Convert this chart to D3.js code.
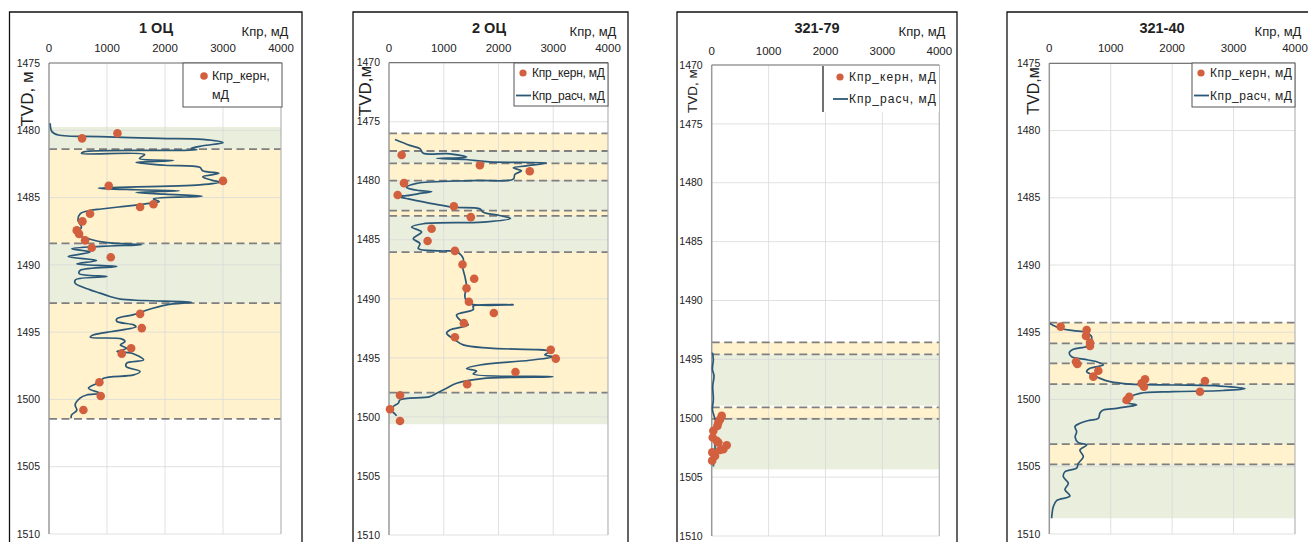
<!DOCTYPE html>
<html>
<head>
<meta charset="utf-8">
<script src="https://cdn.jsdelivr.net/npm/d3@7"></script>
<style>
  body { margin: 0; background: #fff; }
  text { font-family: "Liberation Sans", Arial, sans-serif; fill: #222; }
</style>
</head>
<body>
<svg id="chart" width="1308" height="542"></svg>
<script>

// ---- data: [depth m, Kpr mD] ----
const wells = ["1 ОЦ", "2 ОЦ", "321-79", "321-40"]
const xTicks = [0, 1000, 2000, 3000, 4000]
const unitLabel = "Кпр, мД"
const coreName = "Кпр_керн, мД"
const calcName = "Кпр_расч, мД"

const calc1 = [[1479.48,20],[1480.1,50],[1480.35,160],[1480.47,880],[1480.6,1916],[1480.68,2650],[1480.92,3000],
  [1481.15,2650],[1481.35,2450],[1481.45,2550],[1481.6,600],[1481.72,560],[1481.8,1650],[1482.1,1560],[1482.25,2150],
  [1482.4,1500],[1482.6,2000],[1482.75,2600],[1483.0,2650],[1483.2,2930],[1483.45,2650],[1483.7,2800],[1483.85,2950],
  [1484.05,2600],[1484.3,850],[1484.42,1500],[1484.5,2250],[1484.62,1500],[1484.75,2000],[1484.9,2640],[1485.1,1800],
  [1485.3,1900],[1485.45,1690],[1485.7,1200],[1485.85,900],[1485.95,710],[1486.2,540],[1486.7,500],[1487.2,560],
  [1487.7,480],[1488.1,710],[1488.35,1000],[1488.5,1600],[1488.62,900],[1488.8,390],[1489.05,710],[1489.38,330],
  [1489.68,820],[1489.93,480],[1490.12,1170],[1490.4,540],[1490.65,520],[1490.87,1000],[1491.1,460],[1491.36,450],
  [1491.86,710],[1492.1,880],[1492.35,1050],[1492.55,1230],[1492.65,1630],[1492.78,2460],[1492.97,2030],[1493.35,1690],
  [1493.7,1460],[1494.0,1170],[1494.2,1170],[1494.46,1460],[1494.6,1500],[1495.2,770],[1495.38,710],[1495.5,1250],
  [1495.7,1310],[1495.95,1230],[1496.2,1340],[1496.44,1170],[1496.57,1430],[1497.06,1630],[1497.3,1340],[1497.55,1330],
  [1497.93,1570],[1498.18,1460],[1498.43,940],[1498.7,880],[1499.17,680],[1499.54,880],[1499.67,650],[1499.9,535],
  [1500.4,450],[1500.8,480],[1501.15,390],[1501.4,380]]
const core1 = [[1480.6,570],[1480.22,1180],[1483.76,3000],[1484.13,1030],[1485.7,1571],[1485.5,1801],[1486.2,708],
  [1486.77,576],[1487.44,478],[1487.7,518],[1488.18,622],[1488.73,737],[1489.43,1065],[1493.64,1571],[1494.7,1600],
  [1496.2,1416],[1496.6,1254],[1498.72,869],[1499.74,892],[1500.78,593]]

const calc2 = [[1476.5,110],[1477.0,380],[1477.28,565],[1477.67,626],[1477.72,1110],[1478.0,1416],[1478.1,870],
  [1478.2,1400],[1478.4,1840],[1478.5,2875],[1478.74,2510],[1478.9,2270],[1479.16,2420],[1479.45,2300],[1479.86,2270],
  [1479.98,1540],[1480.22,505],[1480.56,320],[1480.84,565],[1480.92,780],[1481.05,600],[1481.26,320],[1481.32,140],
  [1481.5,320],[1481.96,810],[1482.24,1170],[1482.38,1660],[1482.66,1720],[1482.94,2020],[1483.2,2220],[1483.5,1720],
  [1483.64,626],[1483.92,413],[1484.34,596],[1484.9,444],[1485.32,565],[1485.74,535],[1485.94,930],[1486.02,1234],
  [1486.58,1356],[1487.26,1343],[1488.1,1386],[1488.95,1416],[1489.8,1386],[1490.37,1447],[1490.5,2267],[1490.62,1538],
  [1490.9,1540],[1491.36,1234],[1491.8,1300],[1492.2,1447],[1492.63,1112],[1492.9,1052],[1493.47,1204],[1493.9,1356],
  [1494.18,1842],[1494.46,2936],[1494.75,2845],[1494.9,2997],[1495.2,2571],[1495.6,1660],[1495.9,1416],[1496.12,1599],
  [1496.36,1538],[1496.6,2997],[1496.75,1700],[1497.15,1234],[1497.57,1052],[1498.0,869],[1498.28,748],[1498.56,201],
  [1498.84,170],[1499.12,79],[1499.46,49],[1499.75,109],[1499.9,140]]
const core2 = [[1477.82,231],[1478.68,1660],[1479.19,2571],[1480.2,274],[1481.2,158],[1482.16,1185],[1483.08,1495],
  [1484.06,778],[1485.1,705],[1485.94,1204],[1487.09,1343],[1488.3,1556],[1489.1,1416],[1490.25,1459],[1491.2,1915],
  [1492.06,1368],[1493.25,1204],[1494.32,2954],[1495.06,3046],[1496.2,2310],[1497.23,1428],[1498.16,201],
  [1499.35,18],[1500.34,201]]

const calc3 = [[1494.43,12],[1495.0,29],[1495.85,12],[1496.4,41],[1497.26,18],[1498.4,29],[1499.24,12],[1499.8,41],
  [1500.37,76],[1501.2,41],[1502.35,59],[1503.47,41],[1504.1,29]]
const core3 = [[1499.8,176],[1500.1,146],[1500.37,117],[1500.65,100],[1501.07,29],[1501.64,18],[1501.92,88],
  [1502.06,117],[1502.3,264],[1502.63,205],[1502.7,146],[1502.9,10],[1503.2,59],[1503.6,8]]

const calc4 = [[1494.34,11],[1494.7,174],[1494.88,391],[1495.03,608],[1495.33,689],[1495.82,662],[1496.05,608],
  [1496.27,391],[1496.52,326],[1496.82,364],[1497.0,554],[1497.19,771],[1497.43,879],[1497.68,662],[1497.93,608],
  [1498.18,716],[1498.43,825],[1498.67,988],[1498.85,1313],[1498.92,2073],[1499.0,2779],[1499.19,3186],[1499.33,2833],
  [1499.42,2019],[1499.54,1476],[1499.8,1313],[1500.16,1205],[1500.3,1300],[1500.41,1422],[1500.55,1250],[1500.66,1096],
  [1500.78,879],[1501.0,825],[1501.4,798],[1501.55,650],[1501.77,499],[1502.0,418],[1502.4,445],[1502.8,420],
  [1503.2,472],[1503.38,608],[1503.75,499],[1504.25,554],[1504.75,472],[1505.1,445],[1505.37,255],[1505.74,228],
  [1506.23,309],[1506.7,255],[1507.17,336],[1507.52,119],[1507.97,65],[1508.83,38]]
const core4 = [[1494.58,185],[1494.83,608],[1495.28,597],[1495.77,662],[1496.02,662],[1497.19,434],[1497.36,456],
  [1497.86,798],[1498.3,716],[1498.5,1558],[1498.8,1503],[1499.05,1541],[1498.62,2534],[1499.42,2453],
  [1499.8,1302],[1500.04,1259]]

// zone intervals [top, bottom, kind]  g = green, y = yellow
const zones1 = [[1479.75,1481.4,"g"],[1481.4,1488.4,"y"],[1488.4,1492.84,"g"],[1492.84,1501.45,"y"]]
const zones2 = [[1475.98,1477.48,"y"],[1477.48,1478.52,"g"],[1478.52,1479.99,"y"],[1479.99,1482.53,"g"],
  [1482.53,1482.98,"y"],[1482.98,1486.05,"g"],[1486.05,1497.94,"y"],[1497.94,1500.62,"g"]]
const zones3 = [[1493.55,1494.57,"y"],[1494.57,1498.93,"g"],[1499.07,1500.06,"y"],[1500.06,1504.34,"g"]]
const zones4 = [[1494.29,1495.82,"y"],[1495.82,1497.31,"g"],[1497.31,1498.85,"y"],[1498.85,1503.31,"g"],
  [1503.31,1504.82,"y"],[1504.82,1508.83,"g"]]

const bounds1 = [1481.4, 1488.4, 1492.84, 1501.45]
const bounds2 = [1475.98, 1477.48, 1478.52, 1479.99, 1482.53, 1482.98, 1486.05, 1497.94]
const bounds3 = [1493.55, 1494.57, 1499.07, 1500.06]
const bounds4 = [1494.29, 1495.82, 1497.31, 1498.85, 1503.31, 1504.82]

const depthRange1 = [1475, 1510]
const depthRange2 = [1470, 1510]
const depthRange3 = [1470, 1510]
const depthRange4 = [1475, 1510]

// ---- layout ----
const panels = [
  { name: wells[0], calc: calc1, core: core1, zones: zones1, bounds: bounds1, depth: depthRange1,
    frame: [9.5, 302], plot: [49, 281, 63, 534], titleX: 156, unitX: 265, tickY: 52,
    tvd: { x: 27, y: 99, size: 17, text: "TVD, м" }, legend: "twoLine", lbox: [183, 282, 63, 107] },
  { name: wells[1], calc: calc2, core: core2, zones: zones2, bounds: bounds2, depth: depthRange2,
    frame: [353, 628], plot: [389, 608, 62.7, 535], titleX: 489, unitX: 593, tickY: 52,
    tvd: { x: 365, y: 91, size: 17, text: "TVD,м" }, legend: "box", lbox: [514, 608, 63, 106] },
  { name: wells[2], calc: calc3, core: core3, zones: zones3, bounds: bounds3, depth: depthRange3,
    frame: [677, 957], plot: [711.7, 939.3, 65, 536], titleX: 817, unitX: 922, tickY: 55,
    tvd: { x: 692, y: 91, size: 13.5, text: "TVD, м" }, legend: "edge", lbox: [823, 939, 66, 112] },
  { name: wells[3], calc: calc4, core: core4, zones: zones4, bounds: bounds4, depth: depthRange4,
    frame: [1007, 1320], plot: [1049.3, 1295, 63.3, 534], titleX: 1162, unitX: 1278, tickY: 52,
    tvd: { x: 1033, y: 91, size: 16, text: "TVD,м" }, legend: "box", lbox: [1192, 1295, 63, 107] }
]

const zoneFill = { g: "#eaeedd", y: "#fff2cc" }
const lineColor = "#2c5877"
const dotColor = "#d2603e"

const svg = d3.select("#chart")

panels.forEach(p => {
  let g = svg.append("g")
  let [x0, x1, y0, y1] = p.plot

  let x = d3.scaleLinear().domain([0, 4000]).range([x0, x1])
  let y = d3.scaleLinear().domain(p.depth).range([y0, y1])
  let yTicks = d3.range(p.depth[0], p.depth[1] + 1, 5)

  // outer frame (runs off the bottom of the picture)
  g.append("path")
      .attr("d", `M${p.frame[0]},560V12H${p.frame[1]}V560`)
      .attr("fill", "none")
      .attr("stroke", "#111")
      .attr("stroke-width", 1.3)

  // zones
  g.selectAll("rect.zone")
      .data(p.zones)
      .enter().append("rect")
      .attr("x", x(0))
      .attr("width", x(4000) - x(0))
      .attr("y", d => y(d[0]))
      .attr("height", d => y(d[1]) - y(d[0]))
      .attr("fill", d => zoneFill[d[2]])

  // grid
  g.selectAll("line.vg")
      .data(xTicks.slice(1, -1))
      .enter().append("line")
      .attr("x1", d => x(d)).attr("x2", d => x(d))
      .attr("y1", y0).attr("y2", y1)
      .attr("stroke", "#d9d9d9").attr("stroke-opacity", 0.8)
  g.selectAll("line.hg")
      .data(yTicks)
      .enter().append("line")
      .attr("x1", x0).attr("x2", x1)
      .attr("y1", d => y(d)).attr("y2", d => y(d))
      .attr("stroke", "#d9d9d9").attr("stroke-opacity", 0.8)

  // zone boundaries
  g.selectAll("line.bound")
      .data(p.bounds)
      .enter().append("line")
      .attr("x1", x0).attr("x2", x1)
      .attr("y1", d => y(d)).attr("y2", d => y(d))
      .attr("stroke", "#7f7f7f")
      .attr("stroke-width", 1.8)
      .attr("stroke-dasharray", "8,4.5")

  // axis edges
  g.append("line").attr("x1", x0).attr("x2", x0).attr("y1", y0).attr("y2", y1)
      .attr("stroke", "#9a9a9a").attr("stroke-width", 1.5)
  g.append("line").attr("x1", x1).attr("x2", x1).attr("y1", y0).attr("y2", y1)
      .attr("stroke", "#b5b5b5").attr("stroke-width", 1.2)
  g.append("line").attr("x1", x0).attr("x2", x1).attr("y1", y0).attr("y2", y0)
      .attr("stroke", "#777").attr("stroke-width", 1.2)

  // calculated curve
  let line = d3.line()
      .x(d => x(d[1]))
      .y(d => y(d[0]))
      .curve(d3.curveCatmullRom.alpha(0.5))
  g.append("path")
      .datum(p.calc)
      .attr("d", line)
      .attr("fill", "none")
      .attr("stroke", lineColor)
      .attr("stroke-width", 1.7)

  // core samples
  g.selectAll("circle")
      .data(p.core)
      .enter().append("circle")
      .attr("cx", d => x(d[1]))
      .attr("cy", d => y(d[0]))
      .attr("r", 4.3)
      .attr("fill", dotColor)

  // tick labels
  g.selectAll("text.xt")
      .data(xTicks)
      .enter().append("text")
      .attr("x", d => x(d)).attr("y", p.tickY)
      .attr("text-anchor", "middle")
      .attr("font-size", 11.5)
      .text(d => d)
  g.selectAll("text.yt")
      .data(yTicks)
      .enter().append("text")
      .attr("x", x0 - 9).attr("y", d => y(d))
      .attr("dy", "0.35em")
      .attr("text-anchor", "end")
      .attr("font-size", 10.5)
      .text(d => d)

  // titles
  g.append("text")
      .attr("x", p.titleX).attr("y", 33)
      .attr("text-anchor", "middle")
      .attr("font-size", 14.5).attr("font-weight", "bold")
      .text(p.name)
  g.append("text")
      .attr("x", p.unitX).attr("y", 36)
      .attr("text-anchor", "middle")
      .attr("font-size", 13)
      .text(unitLabel)
  g.append("text")
      .attr("transform", `translate(${p.tvd.x},${p.tvd.y}) rotate(-90)`)
      .attr("text-anchor", "middle")
      .attr("dy", "0.35em")
      .attr("font-size", p.tvd.size)
      .text(p.tvd.text)

  // legend
  let [lx0, lx1, ly0, ly1] = p.lbox
  g.append("rect")
      .attr("x", lx0).attr("y", ly0)
      .attr("width", lx1 - lx0).attr("height", ly1 - ly0)
      .attr("fill", "#fff")
      .attr("stroke", p.legend == "edge" ? "none" : "#555")
      .attr("stroke-width", 1)
  if (p.legend == "edge") {
    g.append("line").attr("x1", lx0).attr("x2", lx0).attr("y1", ly0).attr("y2", ly1)
        .attr("stroke", "#111").attr("stroke-width", 1.2)
  }

  if (p.legend == "twoLine") {
    g.append("circle").attr("cx", lx0 + 21).attr("cy", ly0 + 13).attr("r", 3.8).attr("fill", dotColor)
    g.append("text").attr("x", lx0 + 29).attr("y", ly0 + 13).attr("dy", "0.35em")
        .attr("font-size", 12.5).text(coreName.split(" ")[0])
    g.append("text").attr("x", lx0 + 29).attr("y", ly0 + 32).attr("dy", "0.35em")
        .attr("font-size", 12.5).text(coreName.split(" ")[1])
  } else {
    let tx = lx0 + (p.legend == "edge" ? 26 : 18)
    let r1 = ly0 + (p.legend == "edge" ? 11 : 10)
    let r2 = ly0 + (p.legend == "edge" ? 33 : 32.5)
    g.append("circle").attr("cx", tx - 9).attr("cy", r1).attr("r", 3.6).attr("fill", dotColor)
    g.append("text").attr("x", tx).attr("y", r1).attr("dy", "0.35em")
        .attr("font-size", 12).attr("textLength", lx1 - tx - 3).text(coreName)
    g.append("line").attr("x1", tx - 16).attr("x2", tx - 1).attr("y1", r2).attr("y2", r2)
        .attr("stroke", lineColor).attr("stroke-width", 1.8)
    g.append("text").attr("x", tx).attr("y", r2).attr("dy", "0.35em")
        .attr("font-size", 12).attr("textLength", lx1 - tx - 3).text(calcName)
  }
})

</script>
</body>
</html>
